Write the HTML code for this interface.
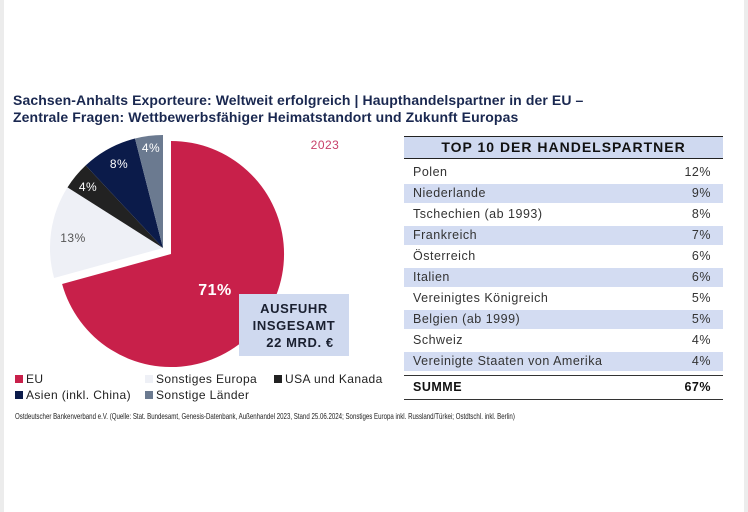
<!DOCTYPE html>
<html><head><meta charset="utf-8"><style>
body{margin:0;width:748px;height:512px;background:#fff;position:relative;overflow:hidden;font-family:"Liberation Sans",sans-serif;}
.g{position:absolute;top:0;bottom:0;width:4px;background:#ececec}
.t{position:absolute;left:13px;color:#1a2850;font-weight:bold;font-size:14px;white-space:nowrap;letter-spacing:0.1px}
.tb{position:absolute;left:404px;width:319px}
.row{position:absolute;left:0;width:319px;height:19px;font-size:12.5px;color:#333;letter-spacing:0.5px;line-height:19px}
.row span{position:absolute}
.row .l{left:9px}.row .r{right:12px}
.band{background:#d3dcf2}
.leg{position:absolute;font-size:12px;color:#222;letter-spacing:0.4px;white-space:nowrap}
.sq{display:inline-block;width:8px;height:8px;margin-right:3px}
</style></head><body>
<div class="g" style="left:0"></div><div class="g" style="right:0"></div>
<div class="t" style="top:92px">Sachsen-Anhalts Exporteure: Weltweit erfolgreich | Haupthandelspartner in der EU –</div>
<div class="t" style="top:109px">Zentrale Fragen: Wettbewerbsfähiger Heimatstandort und Zukunft Europas</div>
<svg width="748" height="512" style="position:absolute;left:0;top:0">
<path d="M171,254 L171,141 A113,113 0 1 1 62.1,284.0 Z" fill="#c8204a"/>
<path d="M163,248 L54.1,278.0 A113,113 0 0 1 67.5,187.4 Z" fill="#eef0f6"/>
<path d="M163,248 L67.5,187.4 A113,113 0 0 1 85.7,165.4 Z" fill="#222"/>
<path d="M163,248 L85.7,165.4 A113,113 0 0 1 135.0,138.5 Z" fill="#0b1b4a"/>
<path d="M163,248 L135.0,138.5 A113,113 0 0 1 163,135 Z" fill="#6b7a90"/>
<g font-family="Liberation Sans" font-size="12" letter-spacing="0.5">
<text x="151" y="152" fill="#fff" text-anchor="middle">4%</text>
<text x="119" y="168" fill="#fff" text-anchor="middle">8%</text>
<text x="88" y="191" fill="#fff" text-anchor="middle">4%</text>
<text x="73" y="242" fill="#555" text-anchor="middle">13%</text>
<text x="215" y="295" fill="#fff" font-weight="bold" font-size="16" text-anchor="middle">71%</text>
<text x="325" y="149" fill="#c8406a" text-anchor="middle">2023</text>
</g>
<rect x="239" y="294" width="110" height="62" fill="#cfd9ef"/>
<g font-family="Liberation Sans" font-size="13" font-weight="bold" fill="#1a2030" letter-spacing="0.6" text-anchor="middle">
<text x="294" y="313">AUSFUHR</text><text x="294" y="330">INSGESAMT</text><text x="300" y="347">22 MRD. €</text>
</g>
</svg>
<div class="tb" style="top:0">
<div style="position:absolute;top:136px;left:0;width:319px;height:21px;background:#cfd9f0;border-top:1.5px solid #222;border-bottom:1.5px solid #222;font-weight:bold;font-size:14px;letter-spacing:1px;text-align:center;line-height:21px;color:#111">TOP 10 DER HANDELSPARTNER</div>
<div class="row" style="top:163px"><span class="l">Polen</span><span class="r">12%</span></div>
<div class="row band" style="top:184px"><span class="l">Niederlande</span><span class="r">9%</span></div>
<div class="row" style="top:205px"><span class="l">Tschechien (ab 1993)</span><span class="r">8%</span></div>
<div class="row band" style="top:226px"><span class="l">Frankreich</span><span class="r">7%</span></div>
<div class="row" style="top:247px"><span class="l">Österreich</span><span class="r">6%</span></div>
<div class="row band" style="top:268px"><span class="l">Italien</span><span class="r">6%</span></div>
<div class="row" style="top:289px"><span class="l">Vereinigtes Königreich</span><span class="r">5%</span></div>
<div class="row band" style="top:310px"><span class="l">Belgien (ab 1999)</span><span class="r">5%</span></div>
<div class="row" style="top:331px"><span class="l">Schweiz</span><span class="r">4%</span></div>
<div class="row band" style="top:352px"><span class="l">Vereinigte Staaten von Amerika</span><span class="r">4%</span></div>
<div style="position:absolute;top:375px;left:0;width:319px;border-top:1.5px solid #333"></div>
<div class="row" style="top:378px;font-weight:bold;color:#111"><span class="l">SUMME</span><span class="r">67%</span></div>
<div style="position:absolute;top:399px;left:0;width:319px;border-top:1.5px solid #333"></div>
</div>
<div class="leg" style="left:15px;top:372px"><span class="sq" style="background:#c8204a"></span>EU</div>
<div class="leg" style="left:145px;top:372px"><span class="sq" style="background:#eef0f6"></span>Sonstiges Europa</div>
<div class="leg" style="left:274px;top:372px"><span class="sq" style="background:#222"></span>USA und Kanada</div>
<div class="leg" style="left:15px;top:388px"><span class="sq" style="background:#0b1b4a"></span>Asien (inkl. China)</div>
<div class="leg" style="left:145px;top:388px"><span class="sq" style="background:#6b7a90"></span>Sonstige Länder</div>
<div style="position:absolute;left:15px;top:411px;font-size:8.5px;color:#222;white-space:nowrap;transform:scaleX(0.72);transform-origin:0 0">Ostdeutscher Bankenverband e.V. (Quelle: Stat. Bundesamt, Genesis-Datenbank, Außenhandel 2023, Stand 25.06.2024; Sonstiges Europa inkl. Russland/Türkei; Ostdtschl. inkl. Berlin)</div>
</body></html>
